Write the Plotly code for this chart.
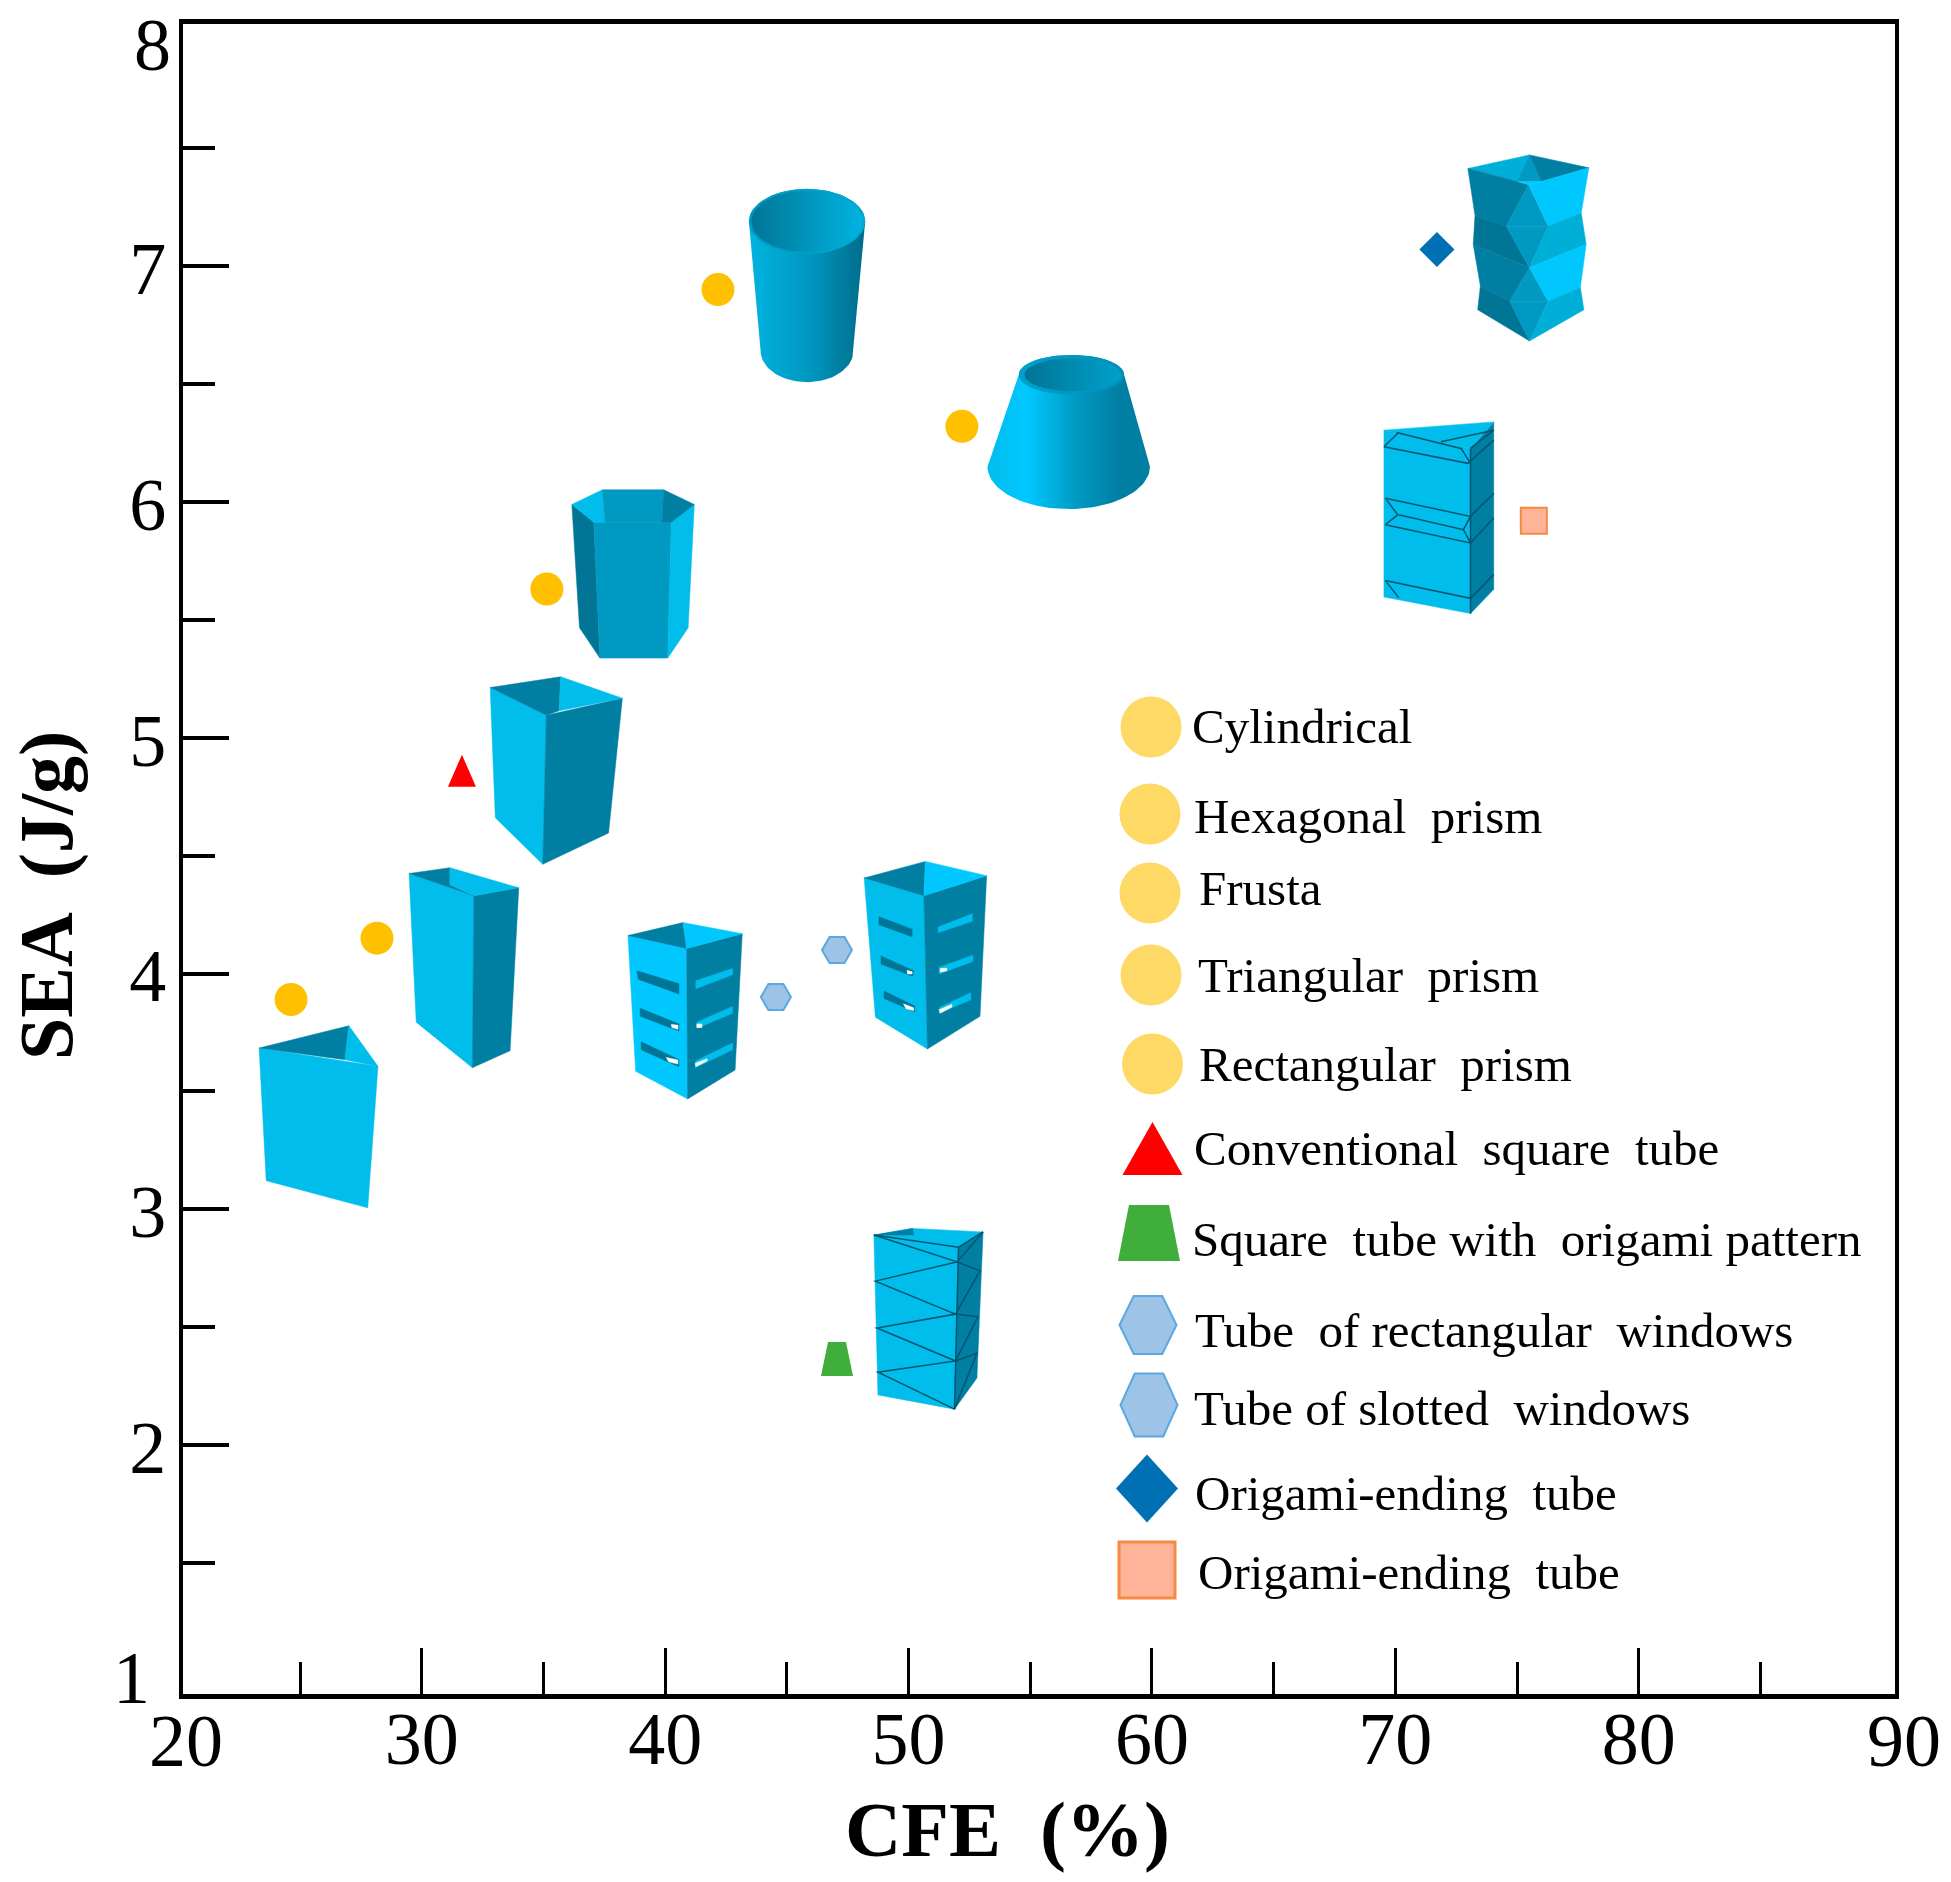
import numpy as np
import plotly.graph_objects as go

# values
circle_names = ["Triangular prism", "Rectangular prism", "Hexagonal prism", "Cylindrical", "Frusta"]
circle_cfe = [24.63, 28.16, 35.14, 42.17, 52.19]
circle_sea = [3.89, 4.15, 5.63, 6.90, 6.32]

square_tube_cfe = [31.65]
square_tube_sea = [4.86]

origami_pattern_cfe = [47.06]
origami_pattern_sea = [2.365]

windows_names = ["Tube of slotted windows", "Tube of rectangular windows"]
windows_cfe = [44.55, 47.06]
windows_sea = [3.90, 4.10]

ending_cfe = [71.71]
ending_sea = [7.07]

ending_square_cfe = [75.69]
ending_square_sea = [5.92]

x_ticks = [30, 40, 50, 60, 70, 80]
x_minor = [25, 35, 45, 55, 65, 75, 85]
y_ticks = [2, 3, 4, 5, 6, 7]
y_minor = [1.5, 2.5, 3.5, 4.5, 5.5, 6.5, 7.5]

legend_labels = [
    "Cylindrical", "Hexagonal  prism", "Frusta", "Triangular  prism", "Rectangular  prism",
    "Conventional  square  tube", "Square  tube with  origami pattern",
    "Tube  of rectangular  windows", "Tube of slotted  windows",
    "Origami-ending  tube", "Origami-ending  tube",
]

FONT = "Liberation Serif"
W, H = 1951, 1882
LEFT, RIGHT, TOP, BOTTOM = 183, 1895, 24, 1694
X_RANGE = [20.19, 90.53]
Y_RANGE = [0.945, 8.026]

CYAN = "#00BDEB"
BRIGHT = "#00C8FF"
MID = "#0099C2"
DARK = "#007FA3"
DARKER = "#007596"
SOFT = "#00AFD8"
EDGE = "#00566F"

# crops the tube sketches were traced from: x0, y0, scale x, scale y
Z2 = (230, 150, 1.96, 2.24)
Z3 = (230, 840, 1.96, 2.24)
Z5 = (950, 130, 2.24, 3.015)


def paper(px, py):
    return (px - LEFT) / (RIGHT - LEFT), (BOTTOM - py) / (BOTTOM - TOP)


def to_px(crop, x, y):
    return crop[0] + x / crop[2], crop[1] + y / crop[3]


shapes = []


def path_shape(points, fill=None, line=None, width=0, closed=True):
    parts = []
    for i, (px, py) in enumerate(points):
        u, v = paper(px, py)
        parts.append(("M" if i == 0 else "L") + f"{u:.5f},{v:.5f}")
    d = " ".join(parts) + (" Z" if closed else "")
    shapes.append(dict(
        type="path", path=d, xref="paper", yref="paper",
        fillcolor=fill if fill else "rgba(0,0,0,0)",
        line=dict(color=line if line else "rgba(0,0,0,0)", width=width),
    ))


def poly(crop, points, fill):
    path_shape([to_px(crop, x, y) for x, y in points], fill=fill, line=fill, width=0.5)


def lines(crop, segments, color=EDGE, width=1.5):
    for seg in segments:
        path_shape([to_px(crop, x, y) for x, y in seg], line=color, width=width, closed=False)


def ellipse_key(cx, cy, w, h, fill):
    u0, v0 = paper(cx - w / 2, cy + h / 2)
    u1, v1 = paper(cx + w / 2, cy - h / 2)
    shapes.append(dict(type="circle", xref="paper", yref="paper", x0=u0, x1=u1, y0=v0, y1=v1,
                       fillcolor=fill, line=dict(width=0)))


def key(cx, cy, points, fill, line=None, width=0):
    path_shape([(cx + x, cy + y) for x, y in points], fill=fill, line=line, width=width)


def hexagon(w, h):
    return [(-w / 2, 0), (-w / 4, -h / 2), (w / 4, -h / 2), (w / 2, 0), (w / 4, h / 2), (-w / 4, h / 2)]


# triangular prism
poly(Z3, [(57, 466), (290, 507), (270, 824), (71, 763)], CYAN)
poly(Z3, [(57, 466), (233, 416), (225, 492)], DARK)
poly(Z3, [(233, 416), (290, 507), (225, 492)], CYAN)

# tall rectangular prism
poly(Z3, [(351, 75), (478, 125), (475, 510), (365, 408)], CYAN)
poly(Z3, [(478, 125), (566, 107), (549, 472), (475, 510)], DARK)
poly(Z3, [(351, 75), (431, 62), (431, 100), (478, 125)], DARK)
poly(Z3, [(431, 62), (566, 107), (478, 125), (431, 100)], CYAN)

# conventional square tube
poly(Z2, [(510, 1204), (620, 1266), (613, 1600), (520, 1496)], CYAN)
poly(Z2, [(620, 1266), (769, 1228), (742, 1530), (613, 1600)], DARK)
poly(Z2, [(510, 1204), (648, 1180), (645, 1256), (620, 1266)], DARK)
poly(Z2, [(648, 1180), (769, 1228), (645, 1256)], CYAN)

# hexagonal prism
poly(Z2, [(670, 794), (713, 834), (725, 1138), (685, 1070)], DARKER)
poly(Z2, [(713, 834), (865, 834), (858, 1138), (725, 1138)], MID)
poly(Z2, [(865, 834), (910, 794), (898, 1070), (858, 1138)], CYAN)
poly(Z2, [(670, 794), (730, 761), (735, 834), (713, 834)], CYAN)
poly(Z2, [(730, 761), (850, 761), (847, 834), (735, 834)], MID)
poly(Z2, [(850, 761), (910, 794), (865, 834), (847, 834)], DARK)

# tube with slots, left one
poly(Z3, [(780, 214), (895, 243), (897, 580), (795, 518)], BRIGHT)
poly(Z3, [(895, 243), (1004, 210), (990, 515), (897, 580)], DARK)
poly(Z3, [(780, 214), (888, 185), (895, 243)], DARK)
poly(Z3, [(888, 185), (1004, 210), (895, 243)], BRIGHT)
poly(Z3, [(798, 293), (880, 322), (880, 345), (800, 312)], DARKER)
poly(Z3, [(804, 377), (880, 412), (880, 428), (804, 395)], DARKER)
poly(Z3, [(806, 452), (880, 492), (880, 508), (806, 470)], DARKER)
poly(Z3, [(913, 315), (985, 288), (985, 302), (913, 333)], CYAN)
poly(Z3, [(915, 408), (985, 373), (985, 388), (915, 422)], CYAN)
poly(Z3, [(912, 495), (985, 455), (985, 470), (912, 510)], CYAN)
poly(Z3, [(855, 487), (878, 493), (878, 502), (860, 497)], "#ffffff")
poly(Z3, [(865, 413), (878, 415), (878, 424), (866, 420)], "#ffffff")
poly(Z3, [(912, 500), (935, 490), (935, 495), (913, 508)], "#ffffff")
poly(Z3, [(915, 412), (925, 412), (925, 420), (915, 420)], "#ffffff")

# tube with slots, right one
poly(Z3, [(1243, 85), (1360, 125), (1367, 468), (1265, 397)], CYAN)
poly(Z3, [(1360, 125), (1483, 80), (1470, 395), (1367, 468)], DARK)
poly(Z3, [(1243, 85), (1363, 48), (1360, 125)], DARK)
poly(Z3, [(1363, 48), (1483, 80), (1360, 125)], BRIGHT)
poly(Z3, [(1272, 172), (1337, 200), (1337, 217), (1272, 190)], DARKER)
poly(Z3, [(1276, 260), (1340, 293), (1338, 305), (1276, 278)], DARKER)
poly(Z3, [(1282, 338), (1342, 372), (1342, 385), (1282, 355)], DARKER)
poly(Z3, [(1388, 195), (1455, 165), (1455, 182), (1388, 208)], CYAN)
poly(Z3, [(1390, 285), (1456, 258), (1456, 272), (1390, 300)], CYAN)
poly(Z3, [(1390, 375), (1452, 342), (1452, 358), (1390, 388)], CYAN)
poly(Z3, [(1320, 367), (1340, 376), (1340, 382), (1325, 378)], "#ffffff")
poly(Z3, [(1390, 380), (1415, 368), (1415, 374), (1392, 388)], "#ffffff")
poly(Z3, [(1327, 292), (1337, 295), (1337, 300), (1328, 300)], "#ffffff")
poly(Z3, [(1392, 288), (1405, 287), (1405, 293), (1392, 296)], "#ffffff")

# square tube with origami pattern
poly(Z3, [(1262, 885), (1428, 912), (1420, 1275), (1270, 1243)], CYAN)
poly(Z3, [(1428, 912), (1476, 878), (1464, 1205), (1420, 1275)], DARK)
poly(Z3, [(1262, 885), (1338, 870), (1476, 878), (1428, 912)], CYAN)
poly(Z3, [(1262, 885), (1338, 870), (1340, 885)], DARK)
lines(Z3, [
    [(1262, 885), (1425, 945), (1265, 988), (1422, 1062), (1268, 1093), (1422, 1167), (1270, 1192), (1420, 1275)],
    [(1425, 945), (1476, 878)], [(1425, 945), (1470, 965), (1422, 1062), (1466, 1068), (1422, 1167),
                                 (1464, 1150), (1420, 1275)],
    [(1262, 885), (1428, 912), (1476, 878)], [(1428, 912), (1420, 1275)],
])

# origami-ending tube, top right
poly(Z5, [(1160, 116), (1298, 75), (1270, 155)], SOFT)
poly(Z5, [(1298, 75), (1325, 155), (1270, 155)], MID)
poly(Z5, [(1298, 75), (1431, 114), (1325, 155)], DARK)
poly(Z5, [(1160, 116), (1270, 155), (1296, 165), (1246, 290), (1176, 258)], DARK)
poly(Z5, [(1296, 165), (1340, 290), (1246, 290)], MID)
poly(Z5, [(1296, 165), (1325, 155), (1431, 114), (1414, 250), (1340, 290)], BRIGHT)
poly(Z5, [(1270, 155), (1325, 155), (1296, 165)], BRIGHT)
poly(Z5, [(1176, 258), (1246, 290), (1298, 415), (1172, 345)], DARKER)
poly(Z5, [(1246, 290), (1340, 290), (1298, 415)], MID)
poly(Z5, [(1340, 290), (1414, 250), (1425, 345), (1298, 415)], SOFT)
poly(Z5, [(1172, 345), (1298, 415), (1254, 516), (1188, 470)], DARK)
poly(Z5, [(1298, 415), (1340, 516), (1254, 516)], MID)
poly(Z5, [(1298, 415), (1425, 345), (1412, 475), (1340, 516)], BRIGHT)
poly(Z5, [(1188, 470), (1254, 516), (1298, 636), (1182, 542)], DARKER)
poly(Z5, [(1254, 516), (1340, 516), (1298, 636)], MID)
poly(Z5, [(1340, 516), (1412, 475), (1420, 542), (1298, 636)], SOFT)

# origami-ending tube, triangular one
poly(Z5, [(972, 905), (1166, 960), (1166, 1458), (972, 1408)], CYAN)
poly(Z5, [(1166, 960), (1218, 880), (1218, 1385), (1166, 1458)], DARK)
poly(Z5, [(972, 905), (1218, 880), (1166, 960)], CYAN)
lines(Z5, [
    [(972, 955), (1160, 1005), (1218, 935)], [(1000, 912), (1145, 960), (1166, 1005)],
    [(972, 955), (1005, 912)], [(1100, 940), (1218, 905)], [(1166, 960), (1218, 905)],
    [(975, 1110), (1166, 1165), (1218, 1095)], [(975, 1190), (1166, 1245), (1218, 1170)],
    [(975, 1110), (1003, 1160), (975, 1190)], [(1005, 1160), (1150, 1205), (1166, 1165)],
    [(1150, 1205), (1166, 1245)], [(975, 1358), (1166, 1412), (1218, 1340)],
    [(975, 1358), (1005, 1410)], [(1166, 960), (1166, 1458)],
], width=1.5)

# legend keys
GOLD = "#FFD966"
ellipse_key(1151, 727, 61, 61, GOLD)
ellipse_key(1150, 814, 61, 61, GOLD)
ellipse_key(1150, 893, 61, 61, GOLD)
ellipse_key(1151, 975, 61, 61, GOLD)
ellipse_key(1152.5, 1064, 61, 61, GOLD)
key(1152.5, 1149, [(-30, 26), (0, -27), (30, 26)], "#FF0000")
key(1149, 1233, [(-31, 28), (-20, -28), (20, -28), (31, 28)], "#3FAE3A")
key(1148, 1325, hexagon(57, 58), "#9DC3E6", "#5BA8E0", 2)
key(1149, 1405, hexagon(57, 63), "#9DC3E6", "#5BA8E0", 2)
key(1147, 1488.5, [(-31, 0), (0, -34), (31, 0), (0, 34)], "#0070B5")
key(1147, 1570, [(-28, -28), (28, -28), (28, 28), (-28, 28)], "#FFB398", "#F58A42", 3)

fig = go.Figure()


def px_x(px):
    return X_RANGE[0] + (np.asarray(px) - LEFT) / (RIGHT - LEFT) * (X_RANGE[1] - X_RANGE[0])


def px_y(py):
    return Y_RANGE[0] + (BOTTOM - np.asarray(py)) / (BOTTOM - TOP) * (Y_RANGE[1] - Y_RANGE[0])


def shaded(xs, ys, colors):
    # outline of the round tubes, only these need a gradient
    fig.add_trace(go.Scatter(
        x=px_x(xs), y=px_y(ys), mode="lines", fill="toself", line=dict(width=0),
        fillgradient=dict(type="horizontal", colorscale=colors),
        hoverinfo="skip", showlegend=False,
    ))


def arc(cx, cy, rx, ry, start, stop):
    t = np.radians(np.linspace(start, stop, 60))
    return cx + rx * np.cos(t), cy + ry * np.sin(t)


def round_tube(crop, top, bottom, inner, body_colors, inner_colors, rim):
    tx, ty = arc(crop[0] + top[0] / crop[2], crop[1] + top[1] / crop[3],
                 top[2] / crop[2], top[3] / crop[3], 180, 360)
    bx, by = arc(crop[0] + bottom[0] / crop[2], crop[1] + bottom[1] / crop[3],
                 bottom[2] / crop[2], bottom[3] / crop[3], 0, 180)
    shaded(np.r_[tx, bx], np.r_[ty, by], body_colors)
    ex, ey = arc(crop[0] + top[0] / crop[2], crop[1] + top[1] / crop[3],
                 top[2] / crop[2], top[3] / crop[3], 0, 360)
    shaded(ex, ey, rim)
    ix, iy = arc(crop[0] + inner[0] / crop[2], crop[1] + inner[1] / crop[3],
                 inner[2] / crop[2], inner[3] / crop[3], 0, 360)
    shaded(ix, iy, inner_colors)


# cylinder
round_tube(Z2, (1131, 160, 114, 73), (1131, 450, 91, 70), (1131, 160, 109, 69),
           [[0, "#00B4E0"], [0.5, "#0099C2"], [1, "#006C8A"]],
           [[0, "#007596"], [1, "#00B4E0"]],
           [[0, "#0099C2"], [1, "#00A8D6"]])
# frustum
round_tube(Z5, (272, 738, 118, 60), (266, 1015, 182, 128), (275, 738, 108, 50),
           [[0, "#00BDEB"], [0.25, "#00C8FF"], [0.55, "#0099C2"], [0.8, "#007FA3"], [1, "#007FA3"]],
           [[0, "#007596"], [1, "#00A0CC"]],
           [[0, "#00A0CC"], [1, "#0090B8"]])

fig.add_trace(go.Scatter(
    x=circle_cfe, y=circle_sea, mode="markers", text=circle_names, name="Prisms",
    marker=dict(symbol="circle", size=33, color="#FFC000"),
))
fig.add_trace(go.Scatter(
    x=windows_cfe, y=windows_sea, mode="markers", text=windows_names, name="Windows",
    marker=dict(symbol="hexagon2", size=30, color="#9DC3E6", line=dict(color="#5BA8E0", width=2)),
))
fig.add_trace(go.Scatter(
    x=ending_cfe, y=ending_sea, mode="markers", name="Origami-ending tube",
    marker=dict(symbol="diamond", size=27, color="#0070B5"),
))
fig.add_trace(go.Scatter(
    x=ending_square_cfe, y=ending_square_sea, mode="markers", name="Origami-ending tube",
    marker=dict(symbol="square", size=26, color="#FFB398", line=dict(color="#F58A42", width=2)),
))

# plotly has no trapezoid symbol and its triangle is too flat here,
# so these two points are shapes pinned to their data position
shapes.append(dict(
    type="path", xref="x", yref="y", xsizemode="pixel", ysizemode="pixel",
    xanchor=origami_pattern_cfe[0], yanchor=origami_pattern_sea[0],
    path="M-16,-17 L-9,17 L9,17 L16,-17 Z",
    fillcolor="#3FAE3A", line=dict(width=0),
))
shapes.append(dict(
    type="path", xref="x", yref="y", xsizemode="pixel", ysizemode="pixel",
    xanchor=square_tube_cfe[0], yanchor=square_tube_sea[0],
    path="M-14,-16 L0,16 L14,-16 Z",
    fillcolor="#FF0000", line=dict(width=0),
))

annotations = []


def label(px, py, text, size, bold=False, angle=0, anchor="center"):
    u, v = paper(px, py)
    annotations.append(dict(
        x=u, y=v, xref="paper", yref="paper", text=f"<b>{text}</b>" if bold else text,
        showarrow=False, textangle=angle, xanchor=anchor, yanchor="middle",
        font=dict(family=FONT, size=size, color="#000000"),
    ))


legend_pos = [(1190, 726), (1192, 816), (1197, 888), (1196, 975), (1197, 1065), (1192, 1148),
              (1190, 1239), (1193, 1330), (1192, 1408), (1193, 1493), (1196, 1572)]
for name, (lx, ly) in zip(legend_labels, legend_pos):
    label(lx, ly, name, 49, anchor="left")

label(1007, 1829, "CFE  (%)", 78, bold=True)
label(46, 896, "SEA  (J/g)", 76, bold=True, angle=-90)
# end labels of the axes sit where no tick is drawn
label(186, 1741, "20", 74)
label(1904, 1741, "90", 74)
label(131, 1678, "1", 74)
label(152, 45, "8", 74)

fig.update_layout(
    width=W, height=H,
    margin=dict(l=LEFT, r=W - RIGHT, t=TOP, b=H - BOTTOM, pad=0, autoexpand=False),
    plot_bgcolor="#ffffff", paper_bgcolor="#ffffff",
    showlegend=False, shapes=shapes, annotations=annotations,
    font=dict(family=FONT, color="#000000"),
)
fig.update_xaxes(
    range=X_RANGE, showgrid=False, zeroline=False, showline=True, mirror=True,
    linecolor="#000000", linewidth=5,
    ticks="inside", ticklen=46, tickwidth=3, tickcolor="#000000",
    tickvals=x_ticks, ticktext=[str(v) for v in x_ticks], tickfont=dict(family=FONT, size=74),
    ticklabelstandoff=-24,
    minor=dict(tickvals=x_minor, ticks="inside", ticklen=32, tickwidth=3, tickcolor="#000000", showgrid=False),
)
fig.update_yaxes(
    range=Y_RANGE, showgrid=False, zeroline=False, showline=True, mirror=True,
    linecolor="#000000", linewidth=4,
    ticks="inside", ticklen=46, tickwidth=4, tickcolor="#000000",
    tickvals=y_ticks, ticktext=[str(v) for v in y_ticks], tickfont=dict(family=FONT, size=74),
    ticklabelstandoff=-2, ticklabelshift=2,
    minor=dict(tickvals=y_minor, ticks="inside", ticklen=32, tickwidth=4, tickcolor="#000000", showgrid=False),
)

fig.write_html("out.html", config={"displayModeBar": False}, post_script="document.body.style.margin='0';")
